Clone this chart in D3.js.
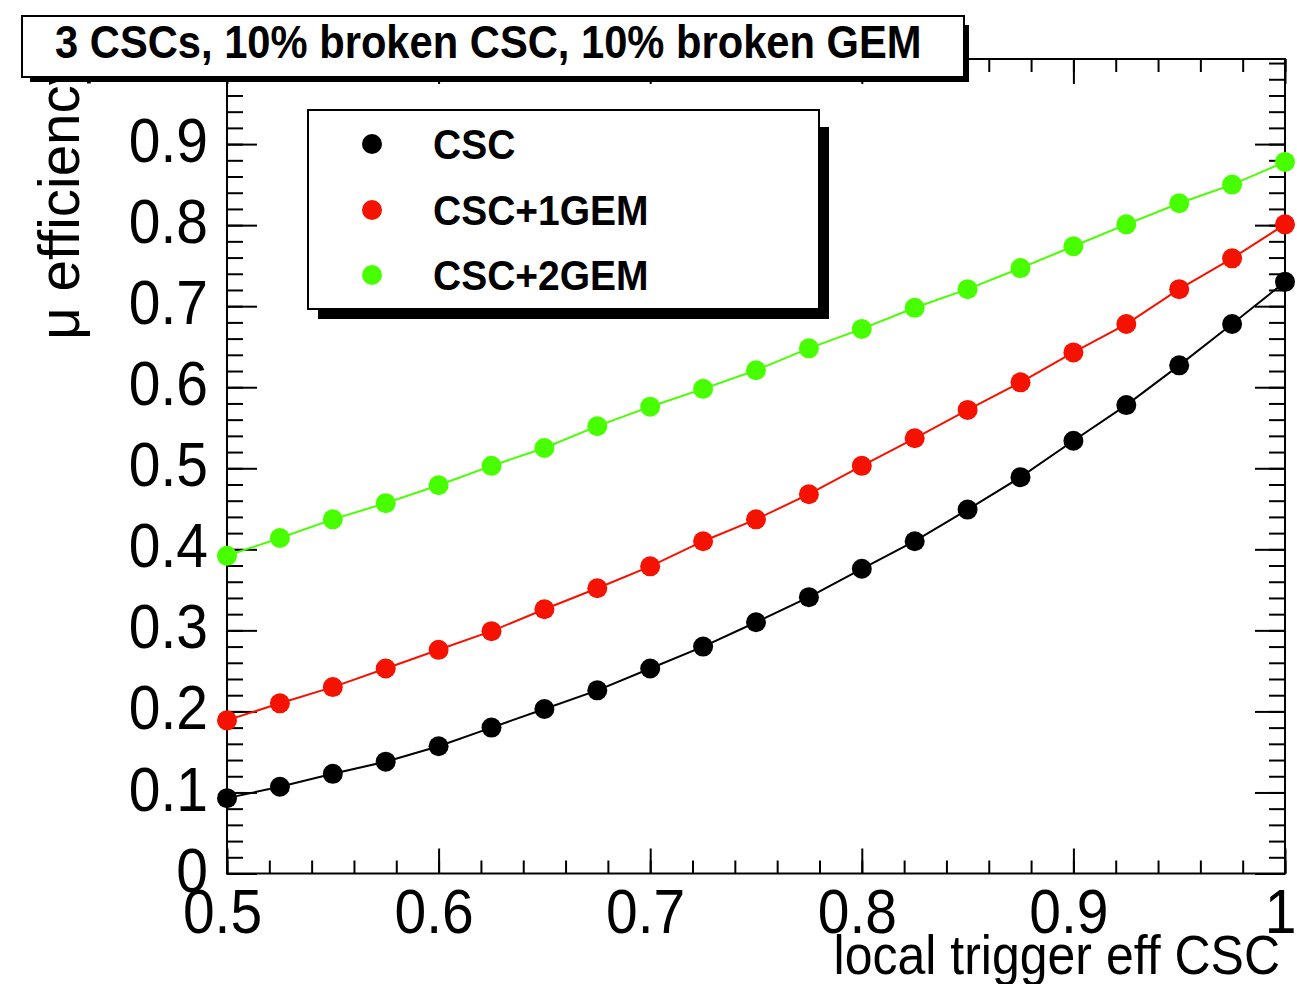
<!DOCTYPE html>
<html>
<head>
<meta charset="utf-8">
<script src="https://cdn.jsdelivr.net/npm/d3@7"></script>
<style>
  html, body { margin: 0; padding: 0; background: #fff; }
  svg { display: block; }
  text { font-family: "Liberation Sans", Arial, Helvetica, sans-serif; fill: #000; }
</style>
</head>
<body>
<svg id="chart" width="1297" height="984"></svg>
<script>
// Local trigger efficiency of the CSC (x) and resulting muon efficiency (y)
const triggerEff = [0.5, 0.525, 0.55, 0.575, 0.6, 0.625, 0.65, 0.675, 0.7, 0.725,
                    0.75, 0.775, 0.8, 0.825, 0.85, 0.875, 0.9, 0.925, 0.95, 0.975, 1.0];
const effCSC     = [0.093, 0.107, 0.123, 0.138, 0.157, 0.180, 0.203, 0.226, 0.253, 0.280,
                    0.310, 0.341, 0.376, 0.410, 0.449, 0.489, 0.534, 0.578, 0.627, 0.678, 0.730];
const effCSC1GEM = [0.189, 0.210, 0.230, 0.253, 0.276, 0.299, 0.326, 0.352, 0.379, 0.410,
                    0.437, 0.468, 0.503, 0.537, 0.572, 0.606, 0.643, 0.678, 0.721, 0.759, 0.801];
const effCSC2GEM = [0.392, 0.414, 0.437, 0.457, 0.479, 0.503, 0.525, 0.552, 0.576, 0.598,
                    0.621, 0.648, 0.672, 0.698, 0.721, 0.747, 0.774, 0.801, 0.827, 0.850, 0.878];

const seriesNames  = ["CSC", "CSC+1GEM", "CSC+2GEM"];
const seriesColors = ["#000000", "#f51200", "#48ff00"];

const xTicks      = [0.5, 0.6, 0.7, 0.8, 0.9, 1.0];
const xTickLabels = ["0.5", "0.6", "0.7", "0.8", "0.9", "1"];
const yTicks      = [0, 0.1, 0.2, 0.3, 0.4, 0.5, 0.6, 0.7, 0.8, 0.9];
const yTickLabels = ["0", "0.1", "0.2", "0.3", "0.4", "0.5", "0.6", "0.7", "0.8", "0.9"];

const titleText  = "3 CSCs, 10% broken CSC, 10% broken GEM";
const xAxisTitle = "local trigger eff CSC";
const yAxisTitle = "\u03bc efficiency";

const series = seriesNames.map((name, i) => ({
  name, color: seriesColors[i],
  values: [effCSC, effCSC1GEM, effCSC2GEM][i]
}));

// ---- layout ----
const frame = { left: 227, right: 1285, top: 59, bottom: 873.5 };
const STRETCH = 1.1;   // the font is drawn a little taller than wide

const svg = d3.select("#chart");
const x = d3.scaleLinear().domain([0.5, 1.0]).range([frame.left, frame.right]);
const y = d3.scaleLinear().domain([0, 1.005]).range([frame.bottom, frame.top]);

const xMinor = d3.range(0, 26).map(i => 0.5 + i * 0.02);
const yMinor = d3.range(0, 51).map(i => i * 0.02).filter(v => v <= 1.005);

function styleAxis(g) {
  g.select(".domain").remove();
  g.selectAll(".tick line").attr("stroke", "#000").attr("stroke-width", 2);
}

// minor ticks, all four sides (ticks point into the frame)
svg.append("g").attr("transform", `translate(0,${frame.bottom})`)
  .call(d3.axisBottom(x).tickValues(xMinor).tickSize(-13).tickFormat(""))
  .call(styleAxis);
svg.append("g").attr("transform", `translate(0,${frame.top})`)
  .call(d3.axisTop(x).tickValues(xMinor).tickSize(-13).tickFormat(""))
  .call(styleAxis);
svg.append("g").attr("transform", `translate(${frame.left},0)`)
  .call(d3.axisLeft(y).tickValues(yMinor).tickSize(-16).tickFormat(""))
  .call(styleAxis);
svg.append("g").attr("transform", `translate(${frame.right},0)`)
  .call(d3.axisRight(y).tickValues(yMinor).tickSize(-16).tickFormat(""))
  .call(styleAxis);

// major ticks with labels
const xAxis = svg.append("g").attr("transform", `translate(0,${frame.bottom})`)
  .call(d3.axisBottom(x).tickValues(xTicks).tickSizeInner(-25).tickSizeOuter(0)
        .tickPadding(14).tickFormat((d, i) => xTickLabels[i]))
  .call(styleAxis);
xAxis.selectAll(".tick text")
  .attr("font-size", 57).attr("font-family", null)
  .attr("dx", -5)
  .attr("transform", `scale(1,${STRETCH})`);

const yAxis = svg.append("g").attr("transform", `translate(${frame.left},0)`)
  .call(d3.axisLeft(y).tickValues(yTicks).tickSizeInner(-30).tickSizeOuter(0)
        .tickPadding(19).tickFormat((d, i) => yTickLabels[i]))
  .call(styleAxis);
yAxis.selectAll(".tick text")
  .attr("font-size", 57).attr("font-family", null)
  .attr("dy", "0.28em")
  .attr("transform", `scale(1,${STRETCH})`);

svg.append("g").attr("transform", `translate(0,${frame.top})`)
  .call(d3.axisTop(x).tickValues(xTicks).tickSize(-25).tickFormat(""))
  .call(styleAxis);
svg.append("g").attr("transform", `translate(${frame.right},0)`)
  .call(d3.axisRight(y).tickValues(yTicks).tickSize(-30).tickFormat(""))
  .call(styleAxis);

// frame
svg.append("rect")
  .attr("x", frame.left).attr("y", frame.top)
  .attr("width", frame.right - frame.left).attr("height", frame.bottom - frame.top)
  .attr("fill", "none").attr("stroke", "#000").attr("stroke-width", 2);

// axis titles
svg.append("text")
  .attr("transform", `translate(1280,974) scale(1,${STRETCH})`)
  .attr("text-anchor", "end").attr("font-size", 50)
  .text(xAxisTitle);
svg.append("text")
  .attr("transform", `translate(79,57) rotate(-90)`)
  .attr("text-anchor", "end").attr("font-size", 56.5)
  .text(yAxisTitle);

// graphs: connecting line plus full-circle markers
const line = d3.line().x((d, i) => x(triggerEff[i])).y(d => y(d));
const plot = svg.append("g");
series.forEach(s => {
  plot.append("path").datum(s.values)
    .attr("d", line).attr("fill", "none")
    .attr("stroke", s.color).attr("stroke-width", 2);
  plot.selectAll(null).data(s.values).enter().append("circle")
    .attr("cx", (d, i) => x(triggerEff[i])).attr("cy", d => y(d))
    .attr("r", 10).attr("fill", s.color);
});

// legend box with shadow
const leg = { x: 308, y: 110, w: 511, h: 199, shadow: 10 };
svg.append("rect")
  .attr("x", leg.x + leg.shadow).attr("y", leg.y + leg.shadow + 7)
  .attr("width", leg.w).attr("height", leg.h - 7).attr("fill", "#000");
svg.append("rect")
  .attr("x", leg.x).attr("y", leg.y).attr("width", leg.w).attr("height", leg.h)
  .attr("fill", "#fff").attr("stroke", "#000").attr("stroke-width", 2);
const legRows = [144, 210, 275];
series.forEach((s, i) => {
  svg.append("circle").attr("cx", 372).attr("cy", legRows[i]).attr("r", 10).attr("fill", s.color);
  svg.append("text")
    .attr("transform", `translate(433,${legRows[i]}) scale(1,${STRETCH})`)
    .attr("dy", "0.36em")
    .attr("font-size", 39).attr("font-weight", "bold")
    .text(s.name);
});

// title box with shadow
const tb = { x: 22, y: 16, w: 942, h: 61, shadow: 5 };
svg.append("rect")
  .attr("x", tb.x + tb.shadow + 3).attr("y", tb.y + tb.shadow + 4)
  .attr("width", tb.w - 3).attr("height", tb.h - 4).attr("fill", "#000");
svg.append("rect")
  .attr("x", tb.x).attr("y", tb.y).attr("width", tb.w).attr("height", tb.h)
  .attr("fill", "#fff").attr("stroke", "#000").attr("stroke-width", 2);
const title = svg.append("text")
  .attr("font-size", 38).attr("font-weight", "bold")
  .text(titleText);
const titleWidth = 867;
const measured = title.node().getComputedTextLength();
title.attr("font-size", 38 * titleWidth / measured)
  .attr("transform", `translate(55,58) scale(1,${STRETCH})`);
</script>
</body>
</html>
